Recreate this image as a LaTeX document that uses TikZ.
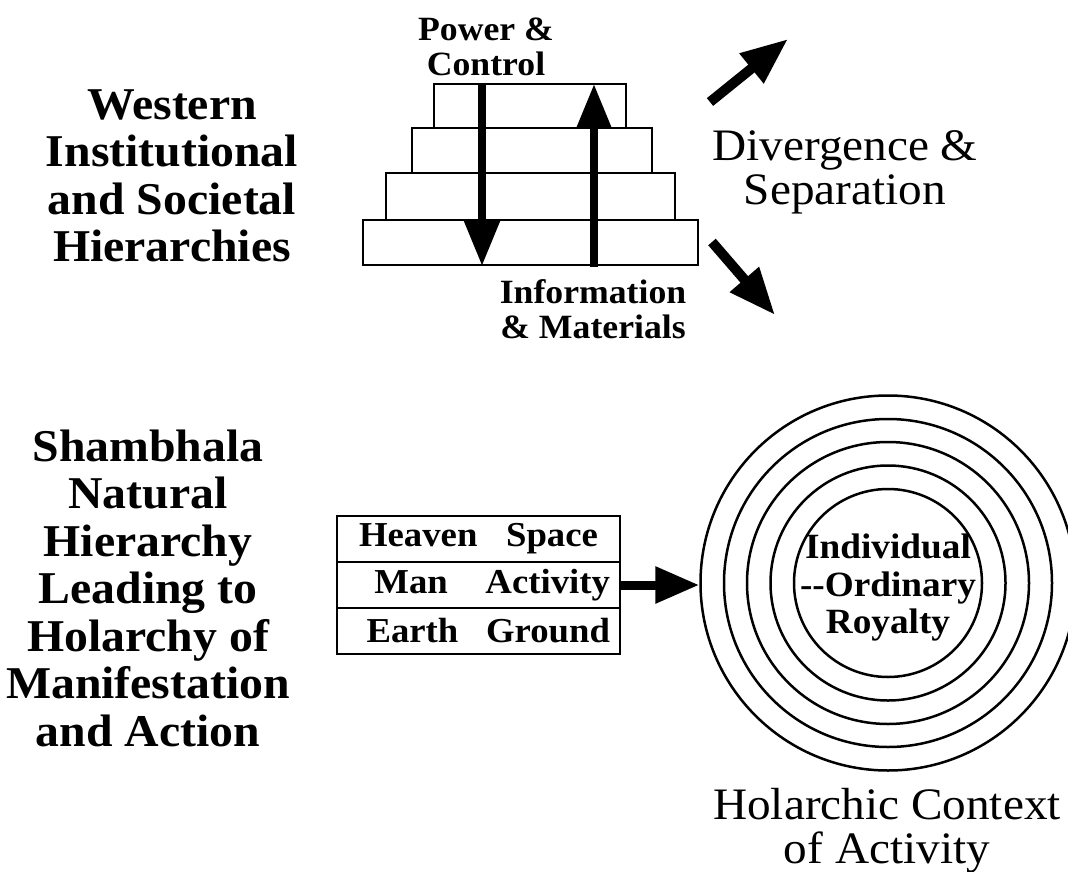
\documentclass[tikz,border=0pt]{standalone}
\usepackage{fontspec}
\setmainfont{Liberation Serif}[FakeStretch=1.05]
\usetikzlibrary{arrows.meta,positioning,calc}

\begin{document}
\begin{tikzpicture}[
    x=1pt, y=-1pt,
    tier/.style={rectangle, draw, line width=2pt, inner sep=0pt},
    row/.style={rectangle, draw, line width=2.5pt, outer sep=0pt, minimum height=46pt, inner xsep=10pt, text width=263pt, font=\fontsize{35}{38}\selectfont\bfseries},
    ring/.style={circle, draw, line width=2.5pt, inner sep=0pt},
    title/.style={align=center, font=\fontsize{45.5}{47.5}\selectfont\bfseries},
    tag/.style={align=center, font=\fontsize{34}{35.5}\selectfont\bfseries},
    caption/.style={align=center, font=\fontsize{45}{44}\selectfont},
    flow/.style={line width=8pt, -{Triangle[length=45pt, width=34pt]}},
    spread/.style={line width=10pt, -{Triangle[length=47pt, width=36pt]}},
    feed/.style={line width=9pt, -{Triangle[length=44pt, width=35pt]}}
]
\useasboundingbox (0,0) rectangle (1068,872);

% western pyramid
\node[tier, minimum width=192pt, minimum height=44pt] (tier1) at (530,106) {};
\node[tier, minimum width=240pt, minimum height=45pt] (tier2) at (532,150.5) {};
\node[tier, minimum width=289pt, minimum height=47pt] (tier3) at (530.5,196.5) {};
\node[tier, minimum width=335pt, minimum height=45pt] (tier4) at (530.5,242.5) {};

\coordinate (down x) at (482,0);
\coordinate (up x) at (594,0);
\draw[flow] (down x |- tier1.north) -- (down x |- tier4.south);
\draw[flow] ($(up x |- tier4.south)+(0,1)$) -- ($(up x |- tier1.north)+(0,1)$);

\node[tag] (power) at (486,47) {Power \&\\Control};
\node[tag] (info) at (593,309) {Information\\\& Materials};

\node[title] (western) at (172,176) {Western\\Institutional\\and Societal\\Hierarchies};

% divergence arrows
\coordinate (rise tail) at (710,102);
\coordinate (rise tip) at (788,39);
\coordinate (fall tail) at (712,242);
\coordinate (fall tip) at (775,315);
\draw[spread] (rise tail) -- (rise tip);
\draw[spread] (fall tail) -- (fall tip);
\node[caption] (diverge) at (845,172) {Divergence \&\\Separation};

% shambhala
\node[title] (shambhala) at (148,588) {Shambhala\\Natural\\Hierarchy\\Leading to\\Holarchy of\\Manifestation\\and Action};

\node[row, align=center] (heaven) at (478.5,539) {Heaven\hspace{17pt} Space};
\node[row, align=right, below=0pt of heaven] (man) {Man\hspace{26pt} Activity};
\node[row, align=right, below=0pt of man] (earth) {Earth\hspace{16pt} Ground};

\foreach \r [count=\i] in {94,117.5,141,164,187.5}
    \node[ring, minimum size={2*\r pt}] (ring\i) at (888,583) {};
\node[align=center, font=\fontsize{35.5}{37.5}\selectfont\bfseries] (core) at (888,588) {Individual\\{-}{-}Ordinary\\Royalty};

\draw[feed] (man.east) -- (man.east -| ring5.west);

\node[caption] (context) at (887,831) {Holarchic Context\\of Activity};
\end{tikzpicture}
\end{document}
